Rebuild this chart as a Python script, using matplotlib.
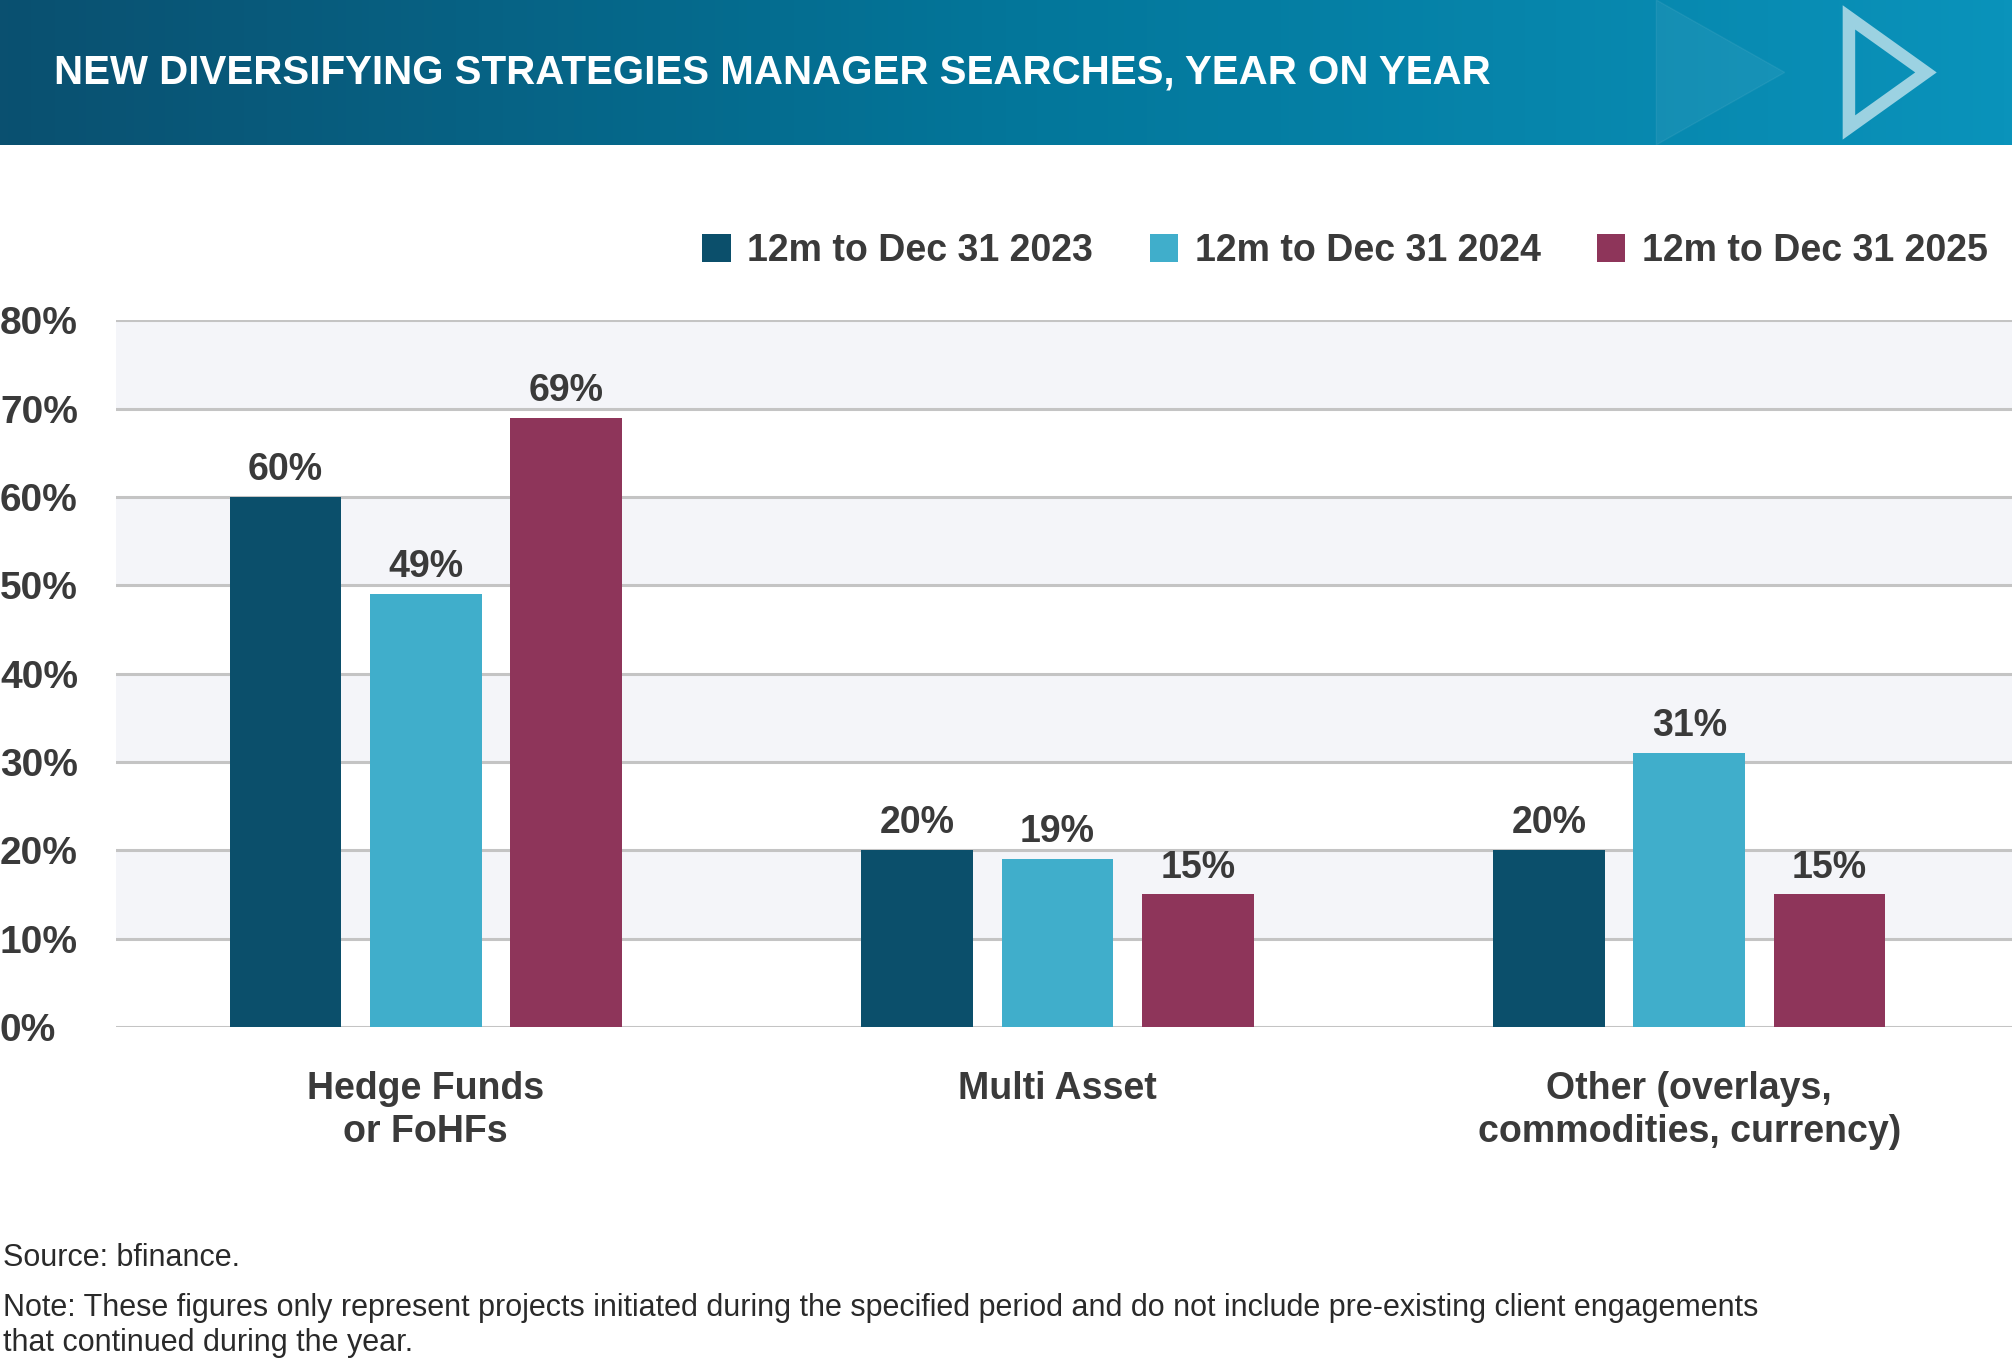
import matplotlib
matplotlib.use("Agg")
import matplotlib.pyplot as plt
import numpy as np
from matplotlib.patches import Polygon
from matplotlib.colors import LinearSegmentedColormap

plt.rcParams['font.family'] = ['Liberation Sans', 'DejaVu Sans']

categories = ["Hedge Funds\nor FoHFs", "Multi Asset", "Other (overlays,\ncommodities, currency)"]
series_names = ["12m to Dec 31 2023", "12m to Dec 31 2024", "12m to Dec 31 2025"]
values_2023 = [60, 20, 20]
values_2024 = [49, 19, 31]
values_2025 = [69, 15, 15]
colors = ["#0b4f6b", "#40aecb", "#8e355a"]
yticks = [0, 10, 20, 30, 40, 50, 60, 70, 80]

W, H = 1567, 1064
fig = plt.figure(figsize=(20.12, 13.64), dpi=100)

hax = fig.add_axes([0, 1 - 113 / H, 1, 113 / H])
grad = np.linspace(0, 1, 256).reshape(1, -1)
cmap = LinearSegmentedColormap.from_list("h", ["#0a5070", "#03769a", "#0a93bb"])
hax.imshow(grad, aspect='auto', cmap=cmap, extent=[0, 1, 0, 1])
hax.add_patch(Polygon([[1290 / W, 1], [1390 / W, 0.5], [1290 / W, 0]], closed=True, color='white', alpha=0.06))
hax.add_patch(Polygon([[1440 / W, 0.88], [1500 / W, 0.5], [1440 / W, 0.12]], closed=True, fill=False,
                      edgecolor='white', alpha=0.6, lw=9))
hax.set_xlim(0, 1); hax.set_ylim(0, 1); hax.axis('off')
hax.text(42 / W, 0.5, "NEW DIVERSIFYING STRATEGIES MANAGER SEARCHES, YEAR ON YEAR", color='white',
         fontsize=29, fontweight='bold', va='center', ha='left')

ax = fig.add_axes([90 / W, 1 - 801 / H, 1 - 90 / W, (801 - 250) / H])
x = np.arange(len(categories))
off, bw = 0.222, 0.177
for lo in (10, 30, 50, 70):
    ax.axhspan(lo, lo + 10, color="#f4f5f9", zorder=0, lw=0)
for t in yticks:
    ax.axhline(t, color="#c4c4c4", lw=2.2, zorder=1)
for i, (vals, c, name) in enumerate(zip([values_2023, values_2024, values_2025], colors, series_names)):
    pos = x + (i - 1) * off
    ax.bar(pos, vals, width=bw, color=c, zorder=2, label=name)
    for p, v in zip(pos, vals):
        ax.text(p, v + 1.0, f"{v}%", ha='center', va='bottom', fontsize=27, fontweight='bold', color='#3a3a3a')
ax.set_xlim(-0.491, 2.511)
ax.set_ylim(0, 80)
ax.set_yticks(yticks)
ax.set_yticklabels([f"{t}%" for t in yticks], fontsize=28, fontweight='bold', color='#3a3a3a')
ax.set_xticks(x)
ax.set_xticklabels(categories, fontsize=27, fontweight='bold', color='#3a3a3a', linespacing=1.25)
ax.tick_params(axis='x', length=0, pad=32)
for s in ax.spines.values():
    s.set_visible(False)
for lbl in ax.get_yticklabels():
    lbl.set_ha('left'); lbl.set_x(-90 / (W - 90))
ax.tick_params(axis='y', length=0, pad=0)
ax.legend(loc='lower right', bbox_to_anchor=(1.005, 1.025), ncol=3, frameon=False,
          handlelength=0.75, handleheight=0.75, columnspacing=1.5, handletextpad=0.45,
          prop={'weight': 'bold', 'size': 27})
for t in ax.get_legend().get_texts():
    t.set_color('#3a3a3a')

fig.text(2 / W, 1 - 981 / H, "Source: bfinance.", fontsize=22, color='#2a2a2a', va='center')
fig.text(2 / W, 1 - 1034 / H,
         "Note: These figures only represent projects initiated during the specified period and do not include pre-existing client engagements\nthat continued during the year.",
         fontsize=22, color='#2a2a2a', va='center', linespacing=1.2)

fig.savefig("out.png", dpi=100)
